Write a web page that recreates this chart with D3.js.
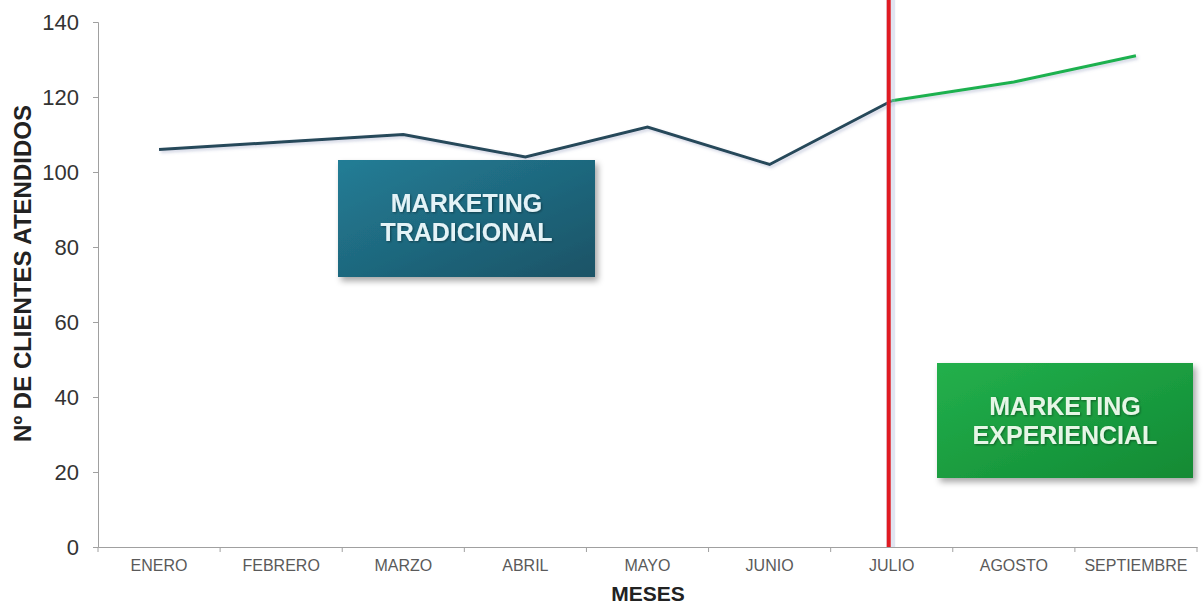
<!DOCTYPE html>
<html>
<head>
<meta charset="utf-8">
<script src="https://cdn.jsdelivr.net/npm/d3@7"></script>
<style>
  html, body { margin: 0; padding: 0; background: #fff; }
  svg { display: block; }
</style>
</head>
<body>
<svg id="chart" width="1203" height="604"></svg>
<script>
// Monthly clients served, split between the two marketing approaches
const months = ["ENERO", "FEBRERO", "MARZO", "ABRIL", "MAYO", "JUNIO", "JULIO", "AGOSTO", "SEPTIEMBRE"];
const traditional = [106, 108, 110, 104, 112, 102, 119];           // ENERO .. JULIO
const experiential = [119, 124, 131];                              // JULIO .. SEPTIEMBRE
const yTicks = [0, 20, 40, 60, 80, 100, 120, 140];
const changeMonth = "JULIO";

const svg = d3.select("#chart");
const margin = { left: 98, right: 6, top: 22, bottom: 57 };
const W = 1203, H = 604;

const x = d3.scaleBand().domain(months).range([margin.left, W - margin.right]);
const y = d3.scaleLinear().domain([0, 140]).range([H - margin.bottom, margin.top]);
const cx = m => x(m) + x.bandwidth() / 2;

const defs = svg.append("defs");
const shadow = defs.append("filter").attr("id", "shadow")
  .attr("x", "-10%").attr("y", "-10%").attr("width", "130%").attr("height", "140%");
shadow.append("feDropShadow").attr("dx", 3).attr("dy", 4).attr("stdDeviation", 3)
  .attr("flood-color", "#000").attr("flood-opacity", 0.35);

const lineShadow = defs.append("filter").attr("id", "lineShadow")
  .attr("filterUnits", "userSpaceOnUse")
  .attr("x", 0).attr("y", 0).attr("width", W).attr("height", H);
lineShadow.append("feDropShadow").attr("dx", 2).attr("dy", 2).attr("stdDeviation", 1.5)
  .attr("flood-color", "#6070a0").attr("flood-opacity", 0.3);

const textShadow = defs.append("filter").attr("id", "textShadow")
  .attr("x", "-10%").attr("y", "-20%").attr("width", "120%").attr("height", "150%");
textShadow.append("feDropShadow").attr("dx", 1).attr("dy", 1).attr("stdDeviation", 0.8)
  .attr("flood-color", "#000").attr("flood-opacity", 0.4);

const gBlue = defs.append("linearGradient").attr("id", "gBlue")
  .attr("x1", "0").attr("y1", "0").attr("x2", "1").attr("y2", "1");
gBlue.append("stop").attr("offset", "0%").attr("stop-color", "#237d96");
gBlue.append("stop").attr("offset", "100%").attr("stop-color", "#1a5366");

const gGreen = defs.append("linearGradient").attr("id", "gGreen")
  .attr("x1", "0").attr("y1", "0").attr("x2", "1").attr("y2", "1");
gGreen.append("stop").attr("offset", "0%").attr("stop-color", "#23b04c");
gGreen.append("stop").attr("offset", "100%").attr("stop-color", "#128a34");

// Axes
const yAxis = svg.append("g")
  .attr("transform", `translate(${margin.left},0)`)
  .call(d3.axisLeft(y).tickValues(yTicks).tickSize(5).tickPadding(14));
yAxis.select(".domain").attr("stroke", "#a0a0a0");
yAxis.selectAll(".tick line").attr("stroke", "#a0a0a0");
yAxis.selectAll(".tick text")
  .attr("font-family", "Liberation Sans, Arial, sans-serif")
  .attr("font-size", 22).attr("fill", "#333");

const xAxis = svg.append("g")
  .attr("transform", `translate(0,${H - margin.bottom})`)
  .call(d3.axisBottom(x).tickSize(0).tickPadding(13));
xAxis.select(".domain").attr("stroke", "#a0a0a0");
xAxis.selectAll(".tick text")
  .attr("font-family", "Liberation Sans, Arial, sans-serif")
  .attr("font-size", 16).attr("fill", "#5a5a5a");
// boundary ticks between months
xAxis.selectAll(".bound").data(months.concat(["end"])).enter().append("line")
  .attr("x1", (d, i) => margin.left + i * x.bandwidth())
  .attr("x2", (d, i) => margin.left + i * x.bandwidth())
  .attr("y1", 0).attr("y2", 5).attr("stroke", "#a0a0a0");

// Axis titles
svg.append("text")
  .attr("transform", `translate(31,${(margin.top + H - margin.bottom) / 2 - 11}) rotate(-90)`)
  .attr("text-anchor", "middle")
  .attr("font-family", "Liberation Sans, Arial, sans-serif")
  .attr("font-weight", "bold").attr("font-size", 24).attr("fill", "#222")
  .text("Nº DE CLIENTES ATENDIDOS");

svg.append("text")
  .attr("x", 648).attr("y", 601)
  .attr("text-anchor", "middle")
  .attr("font-family", "Liberation Sans, Arial, sans-serif")
  .attr("font-weight", "bold").attr("font-size", 21).attr("fill", "#222")
  .text("MESES");

// Series lines
const line = d3.line().x(d => cx(d.m)).y(d => y(d.v));
const tradData = traditional.map((v, i) => ({ m: months[i], v }));
const expData = experiential.map((v, i) => ({ m: months[months.indexOf(changeMonth) + i], v }));

svg.append("path").datum(tradData).attr("d", line)
  .attr("fill", "none").attr("stroke", "#26485a").attr("stroke-width", 3)
  .attr("stroke-linejoin", "miter").attr("filter", "url(#lineShadow)");
svg.append("path").datum(expData).attr("d", line)
  .attr("fill", "none").attr("stroke", "#1fb14f").attr("stroke-width", 3)
  .attr("filter", "url(#lineShadow)");

// Divider between the two strategies
const divX = cx(changeMonth) - 3;
svg.append("line")
  .attr("x1", divX + 2).attr("x2", divX + 2)
  .attr("y1", 0).attr("y2", y(0))
  .attr("stroke", "#aab4d8").attr("stroke-opacity", 0.35).attr("stroke-width", 9);
svg.append("line")
  .attr("x1", divX).attr("x2", divX)
  .attr("y1", 0).attr("y2", y(0))
  .attr("stroke", "#e01b22").attr("stroke-width", 4);

// Annotation boxes
function box(x0, y0, w, h, fill, lines, color) {
  const g = svg.append("g");
  g.append("rect").attr("x", x0).attr("y", y0).attr("width", w).attr("height", h)
    .attr("fill", fill).attr("filter", "url(#shadow)");
  g.selectAll("text").data(lines).enter().append("text")
    .attr("x", x0 + w / 2).attr("y", (d, i) => y0 + 52 + i * 29)
    .attr("text-anchor", "middle")
    .attr("font-family", "Liberation Sans, Arial, sans-serif")
    .attr("font-weight", "bold").attr("font-size", 25).attr("fill", color)
    .attr("filter", "url(#textShadow)")
    .text(d => d);
}
box(338, 160, 257, 117, "url(#gBlue)", ["MARKETING", "TRADICIONAL"], "#e4f3f7");
box(937, 363, 256, 115, "url(#gGreen)", ["MARKETING", "EXPERIENCIAL"], "#e6f6e6");
</script>
</body>
</html>
